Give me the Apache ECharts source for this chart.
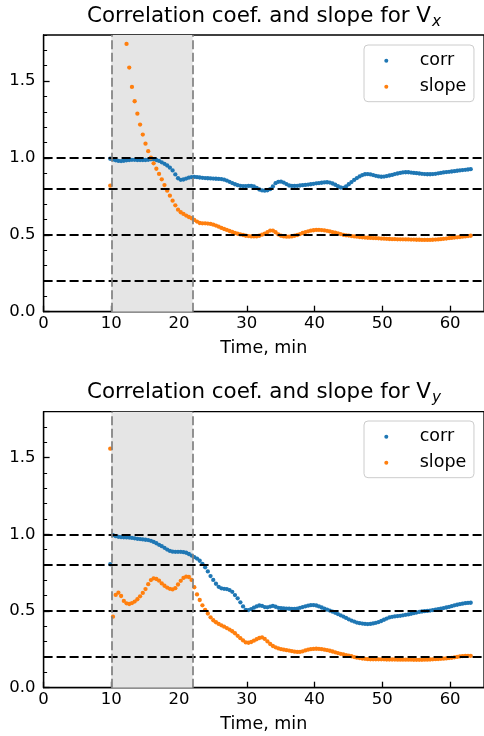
<!DOCTYPE html>
<html><head><meta charset="utf-8">
<script src="https://cdn.jsdelivr.net/npm/echarts@6/dist/echarts.min.js"></script>
<style>html,body{margin:0;padding:0;background:#fff}#c{width:484px;height:736px}</style>
</head><body><div id="c"></div>
<script>
// ---- data ----
const times = [
  9.84, 10.24, 10.64, 11.04, 11.44, 11.84, 12.24, 12.64, 13.04, 13.44,
  13.84, 14.24, 14.64, 15.04, 15.44, 15.84, 16.24, 16.64, 17.04, 17.44,
  17.84, 18.24, 18.64, 19.04, 19.44, 19.84, 20.24, 20.64, 21.04, 21.44,
  21.84, 22.24, 22.64, 23.04, 23.44, 23.84, 24.24, 24.64, 25.04, 25.44,
  25.84, 26.24, 26.64, 27.04, 27.44, 27.84, 28.24, 28.64, 29.04, 29.44,
  29.84, 30.24, 30.64, 31.04, 31.44, 31.84, 32.24, 32.64, 33.04, 33.44,
  33.84, 34.24, 34.64, 35.04, 35.44, 35.84, 36.24, 36.64, 37.04, 37.44,
  37.84, 38.24, 38.64, 39.04, 39.44, 39.84, 40.24, 40.64, 41.04, 41.44,
  41.84, 42.24, 42.64, 43.04, 43.44, 43.84, 44.24, 44.64, 45.04, 45.44,
  45.84, 46.24, 46.64, 47.04, 47.44, 47.84, 48.24, 48.64, 49.04, 49.44,
  49.84, 50.24, 50.64, 51.04, 51.44, 51.84, 52.24, 52.64, 53.04, 53.44,
  53.84, 54.24, 54.64, 55.04, 55.44, 55.84, 56.24, 56.64, 57.04, 57.44,
  57.84, 58.24, 58.64, 59.04, 59.44, 59.84, 60.24, 60.64, 61.04, 61.44,
  61.84, 62.24, 62.64, 63.04
];
const corrX = [
  0.995, 0.990, 0.985, 0.981, 0.980, 0.982, 0.985, 0.987, 0.988, 0.988,
  0.987, 0.987, 0.987, 0.987, 0.988, 0.991, 0.991, 0.987, 0.981, 0.972,
  0.962, 0.951, 0.937, 0.919, 0.893, 0.868, 0.858, 0.860, 0.866, 0.872,
  0.876, 0.877, 0.875, 0.873, 0.871, 0.869, 0.868, 0.867, 0.866, 0.865,
  0.864, 0.863, 0.859, 0.853, 0.845, 0.837, 0.829, 0.823, 0.819, 0.817,
  0.817, 0.818, 0.818, 0.815, 0.806, 0.795, 0.789, 0.787, 0.790, 0.797,
  0.815, 0.836, 0.845, 0.846, 0.840, 0.830, 0.821, 0.818, 0.818, 0.819,
  0.821, 0.823, 0.825, 0.827, 0.829, 0.832, 0.835, 0.837, 0.839, 0.841,
  0.842, 0.840, 0.834, 0.826, 0.816, 0.808, 0.806, 0.815, 0.829, 0.843,
  0.857, 0.869, 0.880, 0.889, 0.894, 0.895, 0.893, 0.889, 0.884, 0.880,
  0.878, 0.879, 0.882, 0.886, 0.890, 0.895, 0.899, 0.903, 0.906, 0.907,
  0.907, 0.905, 0.903, 0.901, 0.899, 0.897, 0.895, 0.894, 0.894, 0.895,
  0.897, 0.900, 0.903, 0.906, 0.908, 0.910, 0.912, 0.914, 0.917, 0.919,
  0.921, 0.923, 0.925, 0.927
];
const slopeX = [
  0.820, 2.90, 2.60, 2.35, 2.12, 1.92, 1.742, 1.588, 1.462, 1.369,
  1.288, 1.217, 1.152, 1.093, 1.044, 1.002, 0.965, 0.930, 0.896, 0.861,
  0.824, 0.787, 0.755, 0.722, 0.692, 0.664, 0.647, 0.636, 0.625, 0.616,
  0.608, 0.597, 0.586, 0.577, 0.575, 0.575, 0.573, 0.571, 0.566, 0.560,
  0.553, 0.545, 0.538, 0.532, 0.525, 0.519, 0.512, 0.507, 0.503, 0.499,
  0.494, 0.492, 0.490, 0.490, 0.490, 0.494, 0.501, 0.508, 0.518, 0.528,
  0.528, 0.517, 0.503, 0.494, 0.490, 0.488, 0.488, 0.490, 0.494, 0.499,
  0.505, 0.512, 0.518, 0.523, 0.527, 0.530, 0.532, 0.532, 0.531, 0.529,
  0.526, 0.522, 0.518, 0.514, 0.510, 0.505, 0.500, 0.497, 0.495, 0.492,
  0.490, 0.488, 0.486, 0.484, 0.482, 0.481, 0.480, 0.479, 0.478, 0.477,
  0.476, 0.475, 0.474, 0.473, 0.472, 0.472, 0.471, 0.471, 0.471, 0.470,
  0.470, 0.469, 0.469, 0.468, 0.468, 0.467, 0.467, 0.467, 0.467, 0.468,
  0.469, 0.470, 0.472, 0.474, 0.476, 0.478, 0.480, 0.482, 0.484, 0.486,
  0.488, 0.490, 0.492, 0.494
];
const corrY = [
  0.805, 0.995, 0.988, 0.984, 0.982, 0.981, 0.980, 0.979, 0.977, 0.974,
  0.971, 0.969, 0.967, 0.965, 0.963, 0.958, 0.951, 0.942, 0.932, 0.923,
  0.912, 0.901, 0.892, 0.887, 0.886, 0.886, 0.886, 0.884, 0.880, 0.872,
  0.862, 0.852, 0.842, 0.828, 0.808, 0.785, 0.758, 0.728, 0.703, 0.678,
  0.658, 0.648, 0.645, 0.643, 0.637, 0.625, 0.604, 0.583, 0.557, 0.530,
  0.508, 0.506, 0.513, 0.522, 0.530, 0.536, 0.533, 0.526, 0.524, 0.529,
  0.533, 0.528, 0.521, 0.518, 0.517, 0.516, 0.515, 0.514, 0.514, 0.516,
  0.521, 0.526, 0.531, 0.535, 0.538, 0.539, 0.536, 0.530, 0.523, 0.516,
  0.509, 0.503, 0.496, 0.488, 0.480, 0.472, 0.464, 0.455, 0.446, 0.438,
  0.431, 0.425, 0.421, 0.418, 0.416, 0.415, 0.416, 0.419, 0.423, 0.428,
  0.435, 0.443, 0.451, 0.458, 0.462, 0.465, 0.467, 0.469, 0.472, 0.475,
  0.478, 0.482, 0.486, 0.490, 0.494, 0.497, 0.499, 0.501, 0.503, 0.506,
  0.509, 0.512, 0.515, 0.519, 0.523, 0.527, 0.532, 0.537, 0.541, 0.545,
  0.548, 0.551, 0.553, 0.554
];
const slopeY = [
  1.559, 0.463, 0.605, 0.620, 0.598, 0.566, 0.550, 0.546, 0.552, 0.562,
  0.577, 0.596, 0.618, 0.643, 0.675, 0.702, 0.713, 0.709, 0.698, 0.680,
  0.665, 0.653, 0.645, 0.641, 0.649, 0.673, 0.697, 0.716, 0.724, 0.722,
  0.703, 0.655, 0.608, 0.572, 0.537, 0.508, 0.484, 0.459, 0.440, 0.427,
  0.416, 0.407, 0.398, 0.389, 0.379, 0.368, 0.355, 0.338, 0.323, 0.308,
  0.295, 0.293, 0.298, 0.307, 0.316, 0.324, 0.328, 0.318, 0.302, 0.285,
  0.272, 0.263, 0.256, 0.251, 0.248, 0.245, 0.242, 0.238, 0.235, 0.233,
  0.233, 0.237, 0.243, 0.248, 0.251, 0.253, 0.254, 0.253, 0.251, 0.248,
  0.245, 0.241, 0.236, 0.231, 0.226, 0.221, 0.217, 0.213, 0.209, 0.205,
  0.200, 0.196, 0.193, 0.190, 0.188, 0.186, 0.185, 0.185, 0.185, 0.185,
  0.185, 0.185, 0.184, 0.184, 0.184, 0.184, 0.183, 0.183, 0.183, 0.183,
  0.183, 0.183, 0.182, 0.182, 0.182, 0.182, 0.183, 0.183, 0.184, 0.185,
  0.186, 0.187, 0.188, 0.189, 0.191, 0.193, 0.195, 0.198, 0.201, 0.204,
  0.206, 0.207, 0.208, 0.208
];
const xTicks = [0, 10, 20, 30, 40, 50, 60];
const xTickLabels = ['0', '10', '20', '30', '40', '50', '60'];
const yTicks = [0, 0.5, 1.0, 1.5];
const yTickLabels = ['0.0', '0.5', '1.0', '1.5'];
const hLines = [0.2, 0.5, 0.8, 1.0];
const vLines = [10, 22];
const titleMain = 'Correlation coef. and slope for V';
const titleSubs = ['x', 'y'];
const seriesNames = ['corr', 'slope'];
const xLabel = 'Time, min';

// ---- rendering ----
const FONT = 'DejaVu Sans';
const C_CORR = '#1f77b4', C_SLOPE = '#ff7f0e';
const panels = [
  { top: 35, height: 276.7, titleTop: 3.4, legendTop: 45, corr: corrX, slope: slopeX },
  { top: 411.7, height: 276, titleTop: 379.4, legendTop: 421, corr: corrY, slope: slopeY }
];
const pairs = arr => times.map((t, i) => [t, arr[i]]);

const option = {
  animation: false,
  backgroundColor: '#fff',
  title: [], grid: [], xAxis: [], yAxis: [], legend: [], series: []
};

panels.forEach((p, i) => {
  option.title.push({
    text: '{t|' + titleMain + '}{s|' + titleSubs[i] + '}',
    left: 264, top: p.titleTop, textAlign: 'center', padding: 0,
    textStyle: {
      fontWeight: 'normal',
      rich: {
        t: { fontSize: 21.4, fontFamily: FONT, fontWeight: 'normal', color: '#000', lineHeight: 26 },
        s: { fontSize: 15.2, fontFamily: FONT, fontWeight: 'normal', fontStyle: 'italic', color: '#000', lineHeight: 26, padding: [11, 0, 0, 1] }
      }
    }
  });
  option.grid.push({
    left: 43.6, right: -1, top: p.top, height: p.height,
    show: true, borderColor: '#000', borderWidth: 1.3, backgroundColor: 'transparent'
  });
  option.xAxis.push({
    gridIndex: i, type: 'value', min: 0, max: 65, interval: 10,
    axisLine: { show: true, onZero: false, lineStyle: { color: '#000', width: 1.3 } },
    axisTick: { show: true, inside: true, length: 6, customValues: xTicks, lineStyle: { color: '#000', width: 1.3 } },
    axisLabel: {
      color: '#000', fontSize: 16.5, fontFamily: FONT, margin: 4, customValues: xTicks,
      formatter: v => xTickLabels[xTicks.indexOf(v)] ?? ''
    },
    splitLine: { show: false },
    name: xLabel, nameLocation: 'middle', nameGap: 28,
    nameTextStyle: { fontSize: 17.5, color: '#000', fontFamily: FONT }
  });
  // major y axis
  option.yAxis.push({
    gridIndex: i, type: 'value', min: 0, max: 1.8, interval: 0.5,
    axisLine: { show: true, onZero: false, lineStyle: { color: '#000', width: 1.3 } },
    axisTick: { show: true, inside: true, length: 6, customValues: yTicks, lineStyle: { color: '#000', width: 1.3 } },
    axisLabel: {
      color: '#000', fontSize: 16.5, fontFamily: FONT, margin: 8, customValues: yTicks,
      formatter: v => yTickLabels[yTicks.findIndex(t => Math.abs(t - v) < 1e-9)] ?? ''
    },
    splitLine: { show: false }
  });
  // minor y ticks
  option.yAxis.push({
    gridIndex: i, type: 'value', min: 0, max: 1.8, interval: 0.1, position: 'left',
    axisLine: { show: false },
    axisTick: { show: true, inside: true, length: 3.5, lineStyle: { color: '#000', width: 1 } },
    axisLabel: { show: false },
    splitLine: { show: false }
  });
  option.legend.push({
    data: seriesNames, orient: 'vertical', left: 364, top: p.legendTop,
    padding: [5.7, 7.7, 5, 20.3], itemWidth: 8, itemHeight: 4, itemGap: 6,
    icon: 'circle', selectedMode: false,
    backgroundColor: 'rgba(255,255,255,0.8)', borderColor: '#cccccc', borderWidth: 1, borderRadius: 4,
    textStyle: { fontSize: 17.5, fontFamily: FONT, color: '#000', padding: [0, 0, 0, 24.4], lineHeight: 20 }
  });
  const yi = i * 2;
  option.series.push({
    type: 'scatter', name: 'shade' + i, xAxisIndex: i, yAxisIndex: yi, data: [], z: 1, silent: true,
    markArea: { silent: true, itemStyle: { color: '#e5e5e5' }, data: [[{ xAxis: vLines[0] }, { xAxis: vLines[1] }]] }
  });
  option.series.push({
    type: 'scatter', name: seriesNames[0], xAxisIndex: i, yAxisIndex: yi, z: 2, clip: true,
    symbolSize: 4.3, itemStyle: { color: C_CORR, opacity: 1 }, data: pairs(p.corr)
  });
  option.series.push({
    type: 'scatter', name: seriesNames[1], xAxisIndex: i, yAxisIndex: yi, z: 2, clip: true,
    symbolSize: 4.3, itemStyle: { color: C_SLOPE, opacity: 1 }, data: pairs(p.slope)
  });
  option.series.push({
    type: 'scatter', name: 'lines' + i, xAxisIndex: i, yAxisIndex: yi, data: [], z: 3, silent: true,
    markLine: {
      silent: true, symbol: 'none', label: { show: false },
      data: hLines.map(v => ({ yAxis: v, lineStyle: { color: '#000', width: 2, type: [9, 4] } }))
        .concat(vLines.map(v => ({ xAxis: v, lineStyle: { color: '#808080', width: 1.7, type: [9, 3.5] } })))
    }
  });
});

const chart = echarts.init(document.getElementById('c'), null, { renderer: 'canvas' });
chart.setOption(option);
</script>
</body></html>
